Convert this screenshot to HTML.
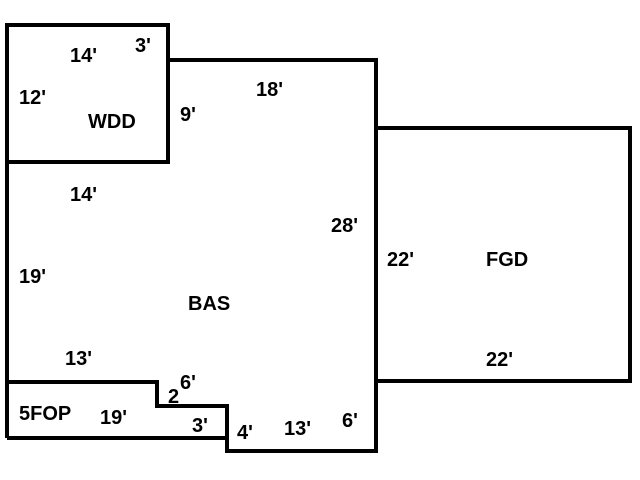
<!DOCTYPE html>
<html><head><style>
html,body{margin:0;padding:0;background:#fff;width:640px;height:480px;overflow:hidden}
svg text{font-family:"Liberation Sans",sans-serif;font-weight:bold;font-size:20px;fill:#000}
</style></head><body>
<svg width="640" height="480" viewBox="0 0 640 480" xmlns="http://www.w3.org/2000/svg">
<g fill="none" stroke="#000" stroke-width="4" stroke-linejoin="miter">
<rect x="7" y="25" width="161" height="137"/>
<polyline points="168,60 376,60 376,451 227,451 227,406 157,406 157,382 7,382"/>
<line x1="7" y1="162" x2="7" y2="438"/>
<polyline points="7,438 227,438"/>
<polyline points="376,128 630,128 630,381 376,381"/>
</g>
<text x="70" y="62">14'</text>
<text x="135" y="52">3'</text>
<text x="19" y="104">12'</text>
<text x="88" y="128">WDD</text>
<text x="180" y="121">9'</text>
<text x="256" y="96">18'</text>
<text x="70" y="201">14'</text>
<text x="331" y="232">28'</text>
<text x="19" y="283">19'</text>
<text x="188" y="310">BAS</text>
<text x="387" y="266">22'</text>
<text x="486" y="266">FGD</text>
<text x="486" y="366">22'</text>
<text x="65" y="365">13'</text>
<text x="180" y="389">6'</text>
<text x="168" y="403">2</text>
<text x="19" y="420">5FOP</text>
<text x="100" y="424">19'</text>
<text x="192" y="432">3'</text>
<text x="237" y="439">4'</text>
<text x="284" y="435">13'</text>
<text x="342" y="427">6'</text>
</svg>
</body></html>
